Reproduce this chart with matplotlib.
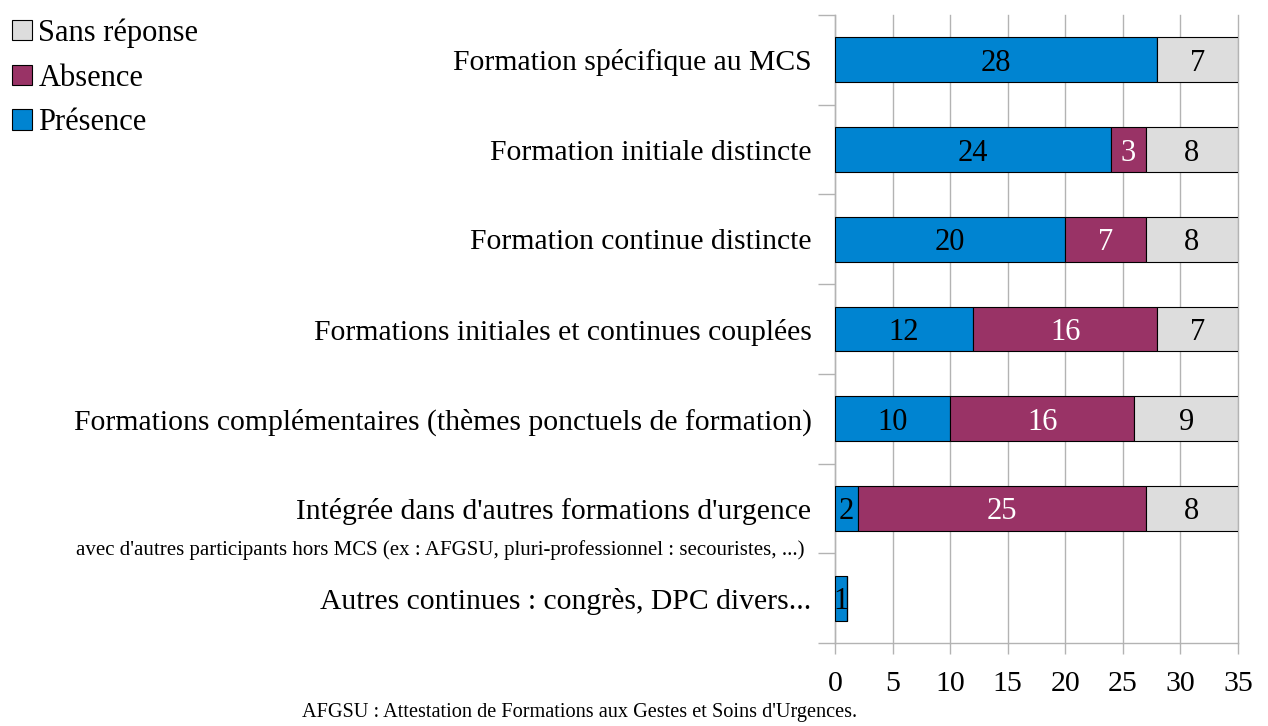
import numpy as np
import matplotlib.pyplot as plt
from matplotlib.ticker import FixedLocator

plt.rcParams['font.family'] = ['Liberation Serif', 'DejaVu Serif']

categories = [
    "Formation spécifique au MCS",
    "Formation initiale distincte",
    "Formation continue distincte",
    "Formations initiales et continues couplées",
    "Formations complémentaires (thèmes ponctuels de formation)",
    "Intégrée dans d'autres formations d'urgence",
    "Autres continues : congrès, DPC divers...",
]
presence = [28, 24, 20, 12, 10, 2, 1]
absence = [0, 3, 7, 16, 16, 25, 0]
sans_reponse = [7, 8, 8, 7, 9, 8, 0]

c_pres = "#0084d1"
c_abs = "#993366"
c_sr = "#dddddd"
grid_c = "#b3b3b3"

fig = plt.figure(figsize=(12.68, 7.26), dpi=100)
ax = fig.add_axes([835 / 1268, 1 - 643 / 726, (1238 - 835) / 1268, (643 - 15) / 726])

y = np.arange(len(categories))[::-1]
pres = np.array(presence)
abs_ = np.array(absence)
sr = np.array(sans_reponse)

h = 0.5
b1 = ax.barh(y, pres, height=h, color=c_pres, edgecolor="black", linewidth=0.8, label="Présence", zorder=3)
b2 = ax.barh(y, abs_, left=pres, height=h, color=c_abs, edgecolor="black", linewidth=0.8, label="Absence", zorder=3)
b3 = ax.barh(y, sr, left=pres + abs_, height=h, color=c_sr, edgecolor="black", linewidth=0.8, label="Sans réponse", zorder=3)

# valeurs au centre de chaque segment
for vals, starts, col in [(pres, np.zeros_like(pres), "black"),
                          (abs_, pres, "white"),
                          (sr, pres + abs_, "black")]:
    for yi, v, s in zip(y, vals, starts):
        if v > 0:
            ax.text(s + v / 2, yi, str(v), ha="center", va="center_baseline",
                    fontsize=22, color=col, zorder=4)

ax.set_xlim(0, 35)
ax.set_ylim(-0.5, len(categories) - 0.5)
ax.set_xticks(np.arange(0, 36, 5))
ax.set_yticks(y)
ax.set_yticklabels(categories, fontsize=21.3)
ax.yaxis.set_minor_locator(FixedLocator(np.arange(-0.5, len(categories), 1)))
ax.tick_params(axis="y", which="major", length=0, pad=17)
ax.tick_params(axis="y", which="minor", length=12, color=grid_c, width=1)
ax.tick_params(axis="x", labelsize=21.5, length=8, color=grid_c, width=1, pad=12)

ax.xaxis.grid(True, color=grid_c, linewidth=1, zorder=0)
ax.set_axisbelow(True)
for line in ax.get_xgridlines():
    line.set_clip_on(False)
for s in ["top", "right"]:
    ax.spines[s].set_visible(False)
for s in ["left", "bottom"]:
    ax.spines[s].set_color(grid_c)
    ax.spines[s].set_linewidth(1)

ax.text(-30 / 403 * 35, 0.54, "avec d'autres participants hors MCS (ex : AFGSU, pluri-professionnel : secouristes, ...)",
        ha="right", va="center", fontsize=15)

fig.legend(handles=[b3, b2, b1], loc="upper left", bbox_to_anchor=(0.0, 1 - 6 / 726),
           frameon=False, fontsize=22, handlelength=0.66, handleheight=0.66,
           handletextpad=0.2, labelspacing=0.52, borderaxespad=0.0, borderpad=0.4)

fig.text(580 / 1268, 1 - 713 / 726, "AFGSU : Attestation de Formations aux Gestes et Soins d'Urgences.",
         ha="center", va="center", fontsize=14.6)

fig.savefig("out.png", dpi=100)
